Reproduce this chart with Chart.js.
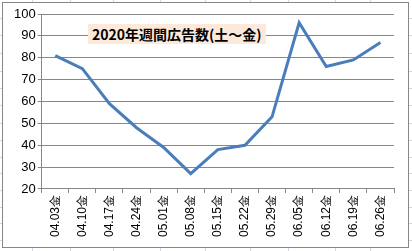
<!DOCTYPE html>
<html>
<head>
<meta charset="utf-8">
<script src="https://cdn.jsdelivr.net/npm/chart.js@4"></script>
<style>
  html, body { margin: 0; padding: 0; background: #fff; }
  #page { position: relative; width: 412px; height: 251px; overflow: hidden; }
  .sheetline { position: absolute; background: #d0d7e5; }
  #frame { position: absolute; left: 2px; top: 2px; width: 405px; height: 244px;
           background: #fff; border: 1px solid #878787; }
  #cv { position: absolute; left: 0; top: 0; }
  #title { position: absolute; left: 88px; top: 24px; height: 20px; line-height: 20px;
           padding: 0 4px; background: #fde9d9; font: bold 14px "Noto Sans CJK JP", sans-serif;
           color: #000; white-space: nowrap; }
</style>
</head>
<body>
<div id="page">
  <div id="frame"></div>
  <canvas id="cv" width="412" height="251"></canvas>
  <div id="title">2020年週間広告数(土～金)</div>
</div>
<script>
var labels = ["04.03金", "04.10金", "04.17金", "04.24金", "05.01金", "05.08金", "05.15金",
              "05.22金", "05.29金", "06.05金", "06.12金", "06.19金", "06.26金"];
var counts = [81, 75, 59, 48, 39, 27, 38, 40, 53, 96, 76, 79, 87];

// spreadsheet cell lines behind the chart
var sheetCols = [32, 70, 113, 160, 205, 250, 288, 335, 370];
var sheetRows = [18, 35, 53, 71, 88, 105, 123, 140, 157, 173, 190, 207, 223, 240];
var page = document.getElementById('page');
sheetCols.forEach(function (x) {
    var d = document.createElement('div');
    d.className = 'sheetline';
    d.style.cssText = 'left:' + x + 'px;top:0;width:1px;height:251px;';
    page.insertBefore(d, page.firstChild);
});
sheetRows.forEach(function (y) {
    var d = document.createElement('div');
    d.className = 'sheetline';
    d.style.cssText = 'left:0;top:' + y + 'px;width:412px;height:1px;';
    page.insertBefore(d, page.firstChild);
});

var ctx = document.getElementById('cv').getContext('2d');
var chart = new Chart(ctx, {
    type: 'line',
    data: {
        labels: labels,
        datasets: [{
            data: counts,
            borderColor: '#4a7ebb',
            borderWidth: 3,
            pointRadius: 0,
            tension: 0,
            fill: false
        }]
    },
    options: {
        responsive: false,
        animation: false,
        layout: { padding: { left: 12, right: 18, top: 14, bottom: 12 } },
        plugins: { legend: { display: false }, tooltip: { enabled: false } },
        scales: {
            x: {
                offset: true,
                grid: { offset: true, drawOnChartArea: false, drawTicks: true, tickLength: 4, color: '#878787' },
                border: { color: '#878787' },
                ticks: {
                    minRotation: 90, maxRotation: 90, autoSkip: false, padding: 2,
                    color: '#000', font: { family: 'Liberation Sans', size: 12 }
                }
            },
            y: {
                min: 20, max: 100,
                grid: { color: '#878787', tickLength: 4 },
                border: { color: '#878787' },
                ticks: {
                    stepSize: 10, padding: 2,
                    color: '#000', font: { family: 'Liberation Sans', size: 13 }
                }
            }
        }
    }
});
</script>
</body>
</html>
